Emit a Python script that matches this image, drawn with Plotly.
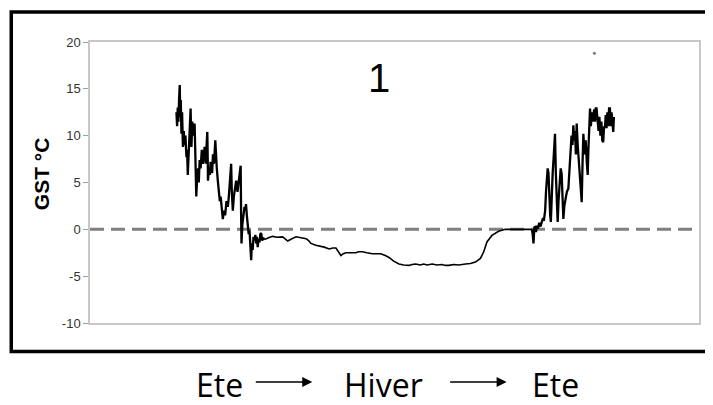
import plotly.graph_objects as go

# Day index (summer -> winter -> summer) and ground surface temperature (deg C)
days = [
    51.8, 52.2, 52.6, 53.0, 53.4, 53.8, 54.1, 54.4, 54.8, 55.2, 55.7, 56.2, 56.7, 57.2, 57.8,
    58.2, 58.6, 59.0, 59.5, 60.0, 60.3, 60.6, 60.8, 61.3, 61.8, 62.2, 62.7, 63.0, 63.4, 63.7,
    64.2, 64.8, 65.2, 65.7, 66.3, 67.0, 67.6, 68.2, 68.7, 69.3, 69.8, 70.3, 70.6, 70.7, 71.2,
    71.8, 72.3, 72.7, 73.2, 73.7, 74.3, 75.1, 75.5, 76.0, 76.6, 77.2, 77.8, 78.3, 78.7, 79.2,
    79.6, 80.3, 81.0, 81.8, 82.6, 83.2, 83.8, 84.6, 85.0, 85.6, 86.2, 86.8, 87.6, 88.4, 89.2,
    89.8, 90.3, 90.6, 90.8, 91.3, 91.8, 92.6, 93.0, 93.5, 94.0, 94.6, 95.1, 95.6, 96.1, 96.6,
    97.0, 97.5, 98.0, 98.6, 99.1, 99.6, 100.0, 100.5, 101.0, 101.6, 102.1, 102.6, 103.2, 103.8,
    104.5, 105.6, 107.0, 109.5, 112.0, 115.5, 118.5, 121.0, 123.5, 126.5, 129.5, 131.0, 132.4,
    135.4, 138.0, 140.4, 143.4, 145.5, 147.4, 149.0, 150.4, 151.8, 153.4, 156.0, 159.3, 161.0,
    163.2, 166.0, 169.2, 172.0, 174.2, 177.0, 179.2, 182.0, 185.2, 188.0, 191.2, 193.0, 195.2,
    198.0, 200.0, 202.0, 205.1, 208.0, 211.0, 213.0, 215.1, 218.0, 221.0, 225.1, 228.0, 231.0,
    234.0, 236.0, 237.9, 240.9, 244.9, 248.9, 255.0, 260.0, 264.8, 265.3, 265.8, 266.3, 266.8,
    267.3, 267.8, 268.5, 269.2, 270.0, 270.8, 271.5, 272.0, 272.8, 273.3, 273.8, 274.3, 274.8,
    275.3, 275.8, 276.2, 276.7, 277.3, 278.0, 278.7, 279.2, 279.7, 280.3, 280.8, 281.5, 282.1,
    282.7, 283.2, 283.7, 284.3, 285.0, 285.8, 286.7, 287.3, 288.0, 288.6, 289.2, 289.7, 290.2,
    290.7, 291.2, 291.7, 292.3, 293.0, 293.8, 294.7, 295.2, 295.7, 296.4, 297.1, 297.8, 298.3,
    298.7, 299.2, 299.7, 300.2, 300.7, 301.2, 301.7, 302.2, 302.7, 303.1, 303.6, 304.2, 304.8,
    305.3, 305.9, 306.5, 307.0, 307.6, 308.1, 308.6, 309.1, 309.6, 310.1, 310.6, 311.1, 311.6,
    312.1, 312.6, 313.1, 313.6, 314.0,
]
gst = [
    12.5, 11.0, 13.0, 11.5, 14.0, 15.4, 12.0, 13.8, 10.2, 12.5, 8.8, 10.5, 9.0, 10.0, 7.7,
    8.5, 5.8, 7.5, 9.5, 11.0, 12.9, 10.0, 8.8, 11.5, 10.0, 11.0, 11.3, 9.0, 5.0, 3.5,
    5.5, 6.5, 5.0, 7.4, 6.5, 8.5, 7.0, 8.0, 8.8, 7.0, 9.0, 10.4, 7.0, 5.2, 6.5,
    5.8, 7.2, 6.7, 6.0, 8.0, 7.0, 9.5, 7.0, 6.5, 5.2, 4.0, 3.0, 3.5, 2.4, 1.5,
    1.1, 2.0, 1.5, 3.0, 2.4, 3.5, 5.5, 7.0, 4.0, 2.0, 3.5, 4.5, 5.2, 4.0, 5.0,
    6.0, 6.8, 1.0, -1.5, 0.5, 1.5, 2.4, 2.0, 2.7, 1.5, 0.5, -0.5, -0.1, -2.0, -3.3,
    -1.5, -2.2, -0.8, -1.2, -0.6, -1.5, -0.8, -1.9, -1.0, -1.4, -0.5, -0.4, -1.2, -0.9,
    -1.1, -1.0, -0.9, -0.75, -0.85, -0.8, -1.25, -1.0, -0.8, -0.9, -1.0, -1.2, -1.5,
    -1.7, -1.8, -1.9, -2.1, -2.0, -2.0, -2.5, -2.8, -2.6, -2.5, -2.5, -2.5, -2.4,
    -2.4, -2.5, -2.6, -2.6, -2.6, -2.8, -3.0, -3.4, -3.7, -3.8, -3.85, -3.75, -3.7,
    -3.8, -3.7, -3.8, -3.7, -3.8, -3.75, -3.85, -3.85, -3.75, -3.8, -3.7, -3.65, -3.5,
    -3.1, -2.4, -1.35, -0.65, -0.2, 0.0, 0.0, 0.0, 0.0, -0.5, -1.5, 0.2, 0.25,
    -0.3, 0.4, 0.1, 0.7, 0.3, 0.8, 1.2, 0.9, 2.0, 4.0, 5.0, 6.5, 6.0,
    3.0, 1.5, 0.8, 3.5, 6.0, 8.0, 10.2, 6.0, 2.5, 0.8, 3.0, 4.5, 6.5,
    5.9, 3.0, 1.1, 2.5, 3.5, 4.0, 4.35, 6.5, 8.5, 10.0, 9.0, 11.1, 9.5,
    10.5, 8.0, 11.3, 9.0, 7.0, 5.0, 2.9, 7.0, 10.2, 8.0, 9.5, 7.0, 5.8,
    8.5, 11.0, 12.9, 11.0, 12.5, 11.5, 12.2, 12.8, 11.5, 12.9, 12.9, 11.5, 10.5,
    12.0, 10.0, 11.5, 9.5, 9.3, 11.0, 10.8, 12.2, 10.8, 12.5, 11.0, 12.9, 12.9,
    11.0, 12.5, 10.8, 10.4, 12.0,
]

# isolated stray reading near the top
stray_day = [302.3]
stray_gst = [18.8]

y_ticks = [-10, -5, 0, 5, 10, 15, 20]
y_tick_text = ["-10", "-5", "0", "5", "10", "15", "20"]
y_title = "GST °C"
panel_label = "1"
season_labels = ["Ete", "Hiver", "Ete"]

# page body has an 8px margin: work in page pixels, then offset
OFF = 8
W, Hh = 713 - OFF, 405 - OFF
L, R = 90 - OFF, 611   # plot left (figure px), width px
T, H = 42 - OFF, 281   # plot top (figure px), height px
def px(xp): return (xp - OFF - L) / R
def py(yp): return (T + H - (yp - OFF)) / H

# split the record into noisy (summer) and smooth (snow-covered) parts for line weight
i1 = days.index(104.5) + 1
i2 = days.index(264.8)

fig = go.Figure()
segments = [(0, i1, 2.3), (i1 - 1, i2 + 1, 1.6), (i2, len(days), 2.3)]
for a, b, w in segments:
    fig.add_trace(go.Scatter(x=days[a:b], y=gst[a:b], mode="lines",
                             line=dict(color="black", width=w), showlegend=False,
                             hoverinfo="skip"))
fig.add_trace(go.Scatter(x=stray_day, y=stray_gst, mode="markers",
                         marker=dict(color="#777777", size=3), showlegend=False,
                         hoverinfo="skip"))

# zero line (dashed)
fig.add_shape(type="line", xref="paper", yref="y", x0=0, x1=1, y0=0, y1=0,
              line=dict(color="#808080", width=3, dash="14px,7px"), layer="below")

# outer black frame (open on the right side, cropped)
fig.add_shape(type="rect", xref="paper", yref="paper",
              x0=px(11), x1=px(760), y0=py(12), y1=py(351.5),
              line=dict(color="black", width=3.5), fillcolor="rgba(0,0,0,0)")

# y-axis title
fig.add_annotation(xref="paper", yref="paper", x=px(41), y=py(174),
                   text=f"<b>{y_title}</b>", showarrow=False, textangle=-90,
                   xanchor="center", yanchor="middle",
                   font=dict(family="Liberation Sans, Arial", size=21, color="black"))

# panel number
fig.add_annotation(xref="paper", yref="paper", x=px(380), y=py(78),
                   text=panel_label, showarrow=False, xanchor="center", yanchor="middle",
                   font=dict(family="Liberation Sans, Arial", size=40, color="black"))

# season labels with arrows
label_x = [220, 384, 557]
for lx, txt in zip(label_x, season_labels):
    fig.add_annotation(xref="paper", yref="paper", x=px(lx), y=py(384),
                       text=txt, showarrow=False, xanchor="center", yanchor="middle",
                       font=dict(family="Open Sans", size=32, color="black"))
for x_tail, x_head in [(255, 313), (450, 508)]:
    fig.add_annotation(xref="paper", yref="paper", x=px(x_head), y=py(382),
                       ax=x_tail - x_head, ay=0, text="", showarrow=True,
                       arrowhead=2, arrowsize=1.25, arrowwidth=1.6, arrowcolor="black")

fig.update_layout(
    width=W, height=Hh,
    margin=dict(l=L, r=W - L - R, t=T, b=Hh - T - H),
    paper_bgcolor="white", plot_bgcolor="white",
    xaxis=dict(range=[0, 365], showgrid=False, zeroline=False, showticklabels=False,
               ticks="", showline=True, mirror=True, linecolor="#c8c8c8", linewidth=1.5),
    yaxis=dict(range=[-10, 20], tickvals=y_ticks, ticktext=y_tick_text,
               showgrid=False, zeroline=False,
               ticks="outside", ticklen=5, tickcolor="#a0a0a0", tickwidth=1,
               showline=True, mirror=True, linecolor="#c8c8c8", linewidth=1.5,
               tickfont=dict(family="Liberation Sans, Arial", size=13, color="#333333")),
)

fig.write_html("out.html")
